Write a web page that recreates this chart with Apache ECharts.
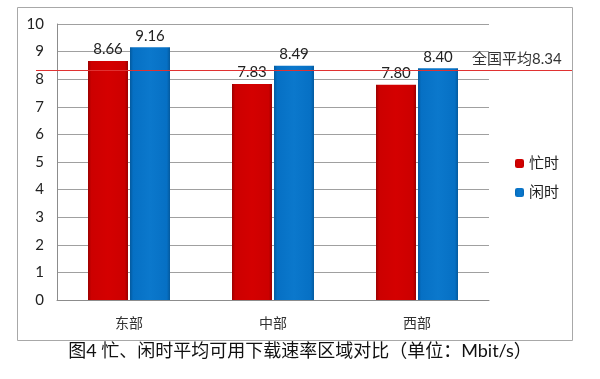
<!DOCTYPE html>
<html><head><meta charset="utf-8">
<script src="https://cdn.jsdelivr.net/npm/echarts@6/dist/echarts.min.js"></script>
<style>html,body{margin:0;padding:0;background:#fff}#c{width:600px;height:379px}</style>
</head><body><div id="c"></div>
<script>
var categories = ['东部', '中部', '西部'];
var busyValues = [8.66, 7.83, 7.80];
var idleValues = [9.16, 8.49, 8.40];
var seriesNames = ['忙时', '闲时'];
var nationalAvg = 8.34;
var avgLabel = '全国平均8.34';
var chartTitle = '图4 忙、闲时平均可用下载速率区域对比（单位：Mbit/s）';

var FONT = "Lato, 'Noto Sans CJK SC', sans-serif";
function grad(c0, c1, c2) {
  return new echarts.graphic.LinearGradient(0, 0, 1, 0, [
    {offset: 0, color: c2}, {offset: 0.08, color: c1}, {offset: 0.5, color: c0},
    {offset: 0.92, color: c1}, {offset: 1, color: c2}
  ]);
}
var chart = echarts.init(document.getElementById('c'), null, {renderer: 'canvas'});
var option = {
  animation: false,
  textStyle: {fontFamily: FONT},
  grid: {left: 57, right: 111, top: 24, bottom: 79},
  legend: {
    orient: 'vertical', left: 510, top: 151, itemWidth: 9, itemHeight: 9, itemGap: 14,
    textStyle: {fontSize: 15, color: '#222', fontFamily: FONT},
    data: seriesNames
  },
  xAxis: {
    type: 'category', data: categories,
    axisTick: {show: false},
    axisLine: {lineStyle: {color: '#8c8c8c'}},
    axisLabel: {fontSize: 14, color: '#333', margin: 16, fontFamily: FONT}
  },
  yAxis: {
    type: 'value', min: 0, max: 10, interval: 1,
    axisLine: {show: true, lineStyle: {color: '#8c8c8c'}},
    axisTick: {show: false},
    splitLine: {lineStyle: {color: '#a0a0a0'}},
    axisLabel: {fontSize: 15, color: '#222', margin: 13, fontFamily: FONT}
  },
  series: [
    {name: seriesNames[0], type: 'bar', data: busyValues, barWidth: 40, barGap: '5%',
     itemStyle: {color: grad('#d40000', '#cc0000', '#9a0000')},
     label: {show: true, position: 'top', distance: 4, fontSize: 15, color: '#222', fontFamily: FONT, formatter: function(p){return p.value.toFixed(2);}}},
    {name: seriesNames[1], type: 'bar', data: idleValues, barWidth: 40,
     itemStyle: {color: grad('#0b78cc', '#0670c4', '#045a9e')},
     label: {show: true, position: 'top', distance: 4, fontSize: 15, color: '#222', fontFamily: FONT, formatter: function(p){return p.value.toFixed(2);}}}
  ]
};
chart.setOption(option);
var yPix = chart.convertToPixel({yAxisIndex: 0}, nationalAvg);
chart.setOption({graphic: [
  {type: 'rect', shape: {x: 17.5, y: 7.5, width: 555, height: 333}, style: {fill: 'none', stroke: '#a8a8a8', lineWidth: 1}, z: -1},
  {type: 'text', left: 'center', top: 342, style: {text: chartTitle, fontSize: 18, fill: '#111', fontFamily: FONT}},
  {type: 'line', shape: {x1: 36, y1: Math.round(yPix) + 0.5, x2: 572, y2: Math.round(yPix) + 0.5}, style: {stroke: '#e03232', lineWidth: 1}, z: 10},
  {type: 'text', x: 472, y: yPix - 3, style: {text: avgLabel, fontSize: 15, fill: '#333', fontFamily: FONT, textVerticalAlign: 'bottom'}, z: 10}
]});
</script></body></html>
